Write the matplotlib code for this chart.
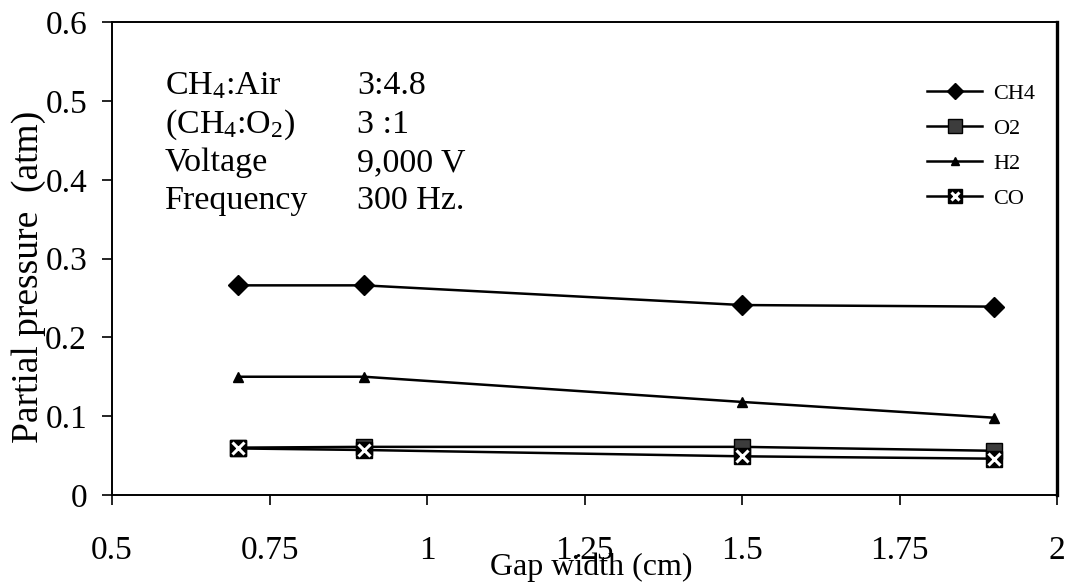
import numpy as np
import matplotlib
matplotlib.use("Agg")
import matplotlib.pyplot as plt

plt.rcParams['font.family'] = ['Liberation Serif', 'DejaVu Serif']
plt.rcParams['mathtext.fontset'] = 'custom'
plt.rcParams['mathtext.rm'] = 'Liberation Serif'
plt.rcParams['mathtext.it'] = 'Liberation Serif:italic'

# gap width (cm) and partial pressures (atm)
gap = [0.7, 0.9, 1.5, 1.9]
ch4 = [0.266, 0.266, 0.241, 0.239]
o2 = [0.060, 0.061, 0.061, 0.056]
h2 = [0.150, 0.150, 0.118, 0.098]
co = [0.059, 0.057, 0.049, 0.046]

xticks = [0.5, 0.75, 1, 1.25, 1.5, 1.75, 2]
xticklabels = ['0.5', '0.75', '1', '1.25', '1.5', '1.75', '2']
yticks = [0, 0.1, 0.2, 0.3, 0.4, 0.5, 0.6]
yticklabels = ['0', '0.1', '0.2', '0.3', '0.4', '0.5', '0.6']

cond_names = ['CH$_4$:Air', '(CH$_4$:O$_2$)', 'Voltage', 'Frequency']
cond_values = ['3:4.8', '3 :1', '9,000 V', '300 Hz.']

fig = plt.figure(figsize=(10.68, 5.85), dpi=100)
ax = fig.add_axes([0.1049, 0.154, 0.885, 0.808])

l_ch4, = ax.plot(gap, ch4, color='black', lw=1.8, marker='D', ms=10,
                 mfc='black', mec='black', zorder=3)
l_co, = ax.plot(gap, co, color='black', lw=1.8, marker='s', ms=12,
                mfc='black', mec='black', zorder=3)
x_co, = ax.plot(gap, co, ls='none', marker='x', ms=8, mew=2.2,
                color='white', zorder=4)
l_o2, = ax.plot(gap, o2, color='black', lw=1.8, marker='s', ms=12,
                mfc='#3c3c3c', mec='black', zorder=2)
l_h2, = ax.plot(gap, h2, color='black', lw=1.8, marker='^', ms=7,
                mfc='black', mec='black', zorder=3)

ax.set_xlim(0.5, 2)
ax.set_ylim(0, 0.6)
ax.set_xticks(xticks)
ax.set_xticklabels(xticklabels)
ax.set_yticks(yticks)
ax.set_yticklabels(yticklabels)
ax.tick_params(axis='both', direction='out', length=7, width=1.2,
               labelsize=24)
ax.tick_params(axis='x', pad=22)
ax.tick_params(axis='y', pad=11)

for side in ['left', 'bottom', 'top']:
    ax.spines[side].set_linewidth(1.4)
ax.spines['right'].set_linewidth(2.4)

ax.set_xlabel('Gap width (cm)', fontsize=23, va='center')
ax.xaxis.set_label_coords(0.507, -0.154)
ax.set_ylabel('Partial pressure  (atm)', fontsize=27, va='center')
ax.yaxis.set_label_coords(-0.088, 0.462)

rows_y = [0.865, 0.784, 0.703, 0.622]
for name, val, yy in zip(cond_names, cond_values, rows_y):
    ax.text(0.056, yy, name, transform=ax.transAxes, fontsize=24.5,
            va='center', ha='left')
    ax.text(0.259, yy, val, transform=ax.transAxes, fontsize=24.5,
            va='center', ha='left')

ax.legend([l_ch4, l_o2, l_h2, (l_co, x_co)], ['CH4', 'O2', 'H2', 'CO'],
          loc='upper left', bbox_to_anchor=(0.862, 0.870), frameon=False,
          fontsize=16, handlelength=2.5, handletextpad=0.5,
          labelspacing=0.65, borderpad=0, borderaxespad=0, markerscale=0.8)

fig.savefig('out.png', dpi=100, facecolor='white')
